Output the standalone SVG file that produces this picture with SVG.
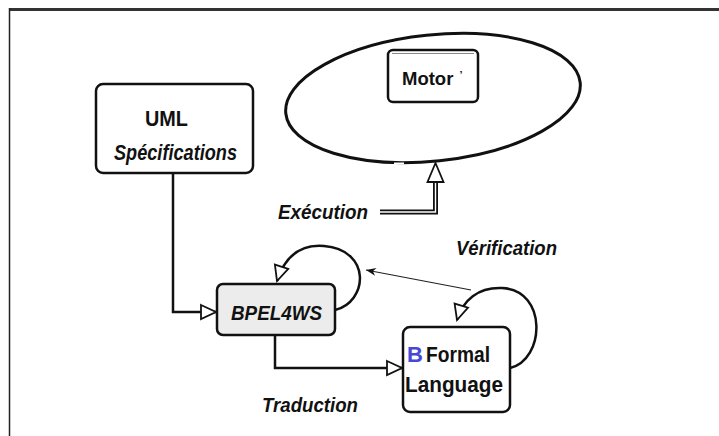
<svg xmlns="http://www.w3.org/2000/svg" width="719" height="436" viewBox="0 0 719 436">
  <style>
    .lbl { font-family: "Liberation Sans", Arial, sans-serif; font-weight: bold; fill: #111; }
    .it { font-style: italic; }
    .box { fill: #fff; stroke: #111; stroke-width: 2.5; }
    .wire { fill: none; stroke: #111; stroke-width: 2.5; }
  </style>
  <defs>
    <marker id="hollow" markerUnits="userSpaceOnUse" markerWidth="20" markerHeight="20" viewBox="0 0 20 20" refX="17" refY="10" orient="auto">
      <path d="M2,3 L17,10 L2,17 Z" fill="#fff" stroke="#111" stroke-width="1.8"/>
    </marker>
    <marker id="thin" markerUnits="userSpaceOnUse" markerWidth="12" markerHeight="12" viewBox="0 0 12 12" refX="11" refY="6" orient="auto">
      <path d="M1,2 L11,6 L1,10 L4,6 Z" fill="#111"/>
    </marker>
  </defs>

  <rect width="719" height="436" fill="#fff"/>

  <!-- frame -->
  <line x1="9" y1="9.5" x2="719" y2="9.5" stroke="#333" stroke-width="3"/>
  <line x1="9.5" y1="8" x2="9.5" y2="436" stroke="#222" stroke-width="1.5"/>

  <!-- engine ellipse -->
  <g id="engine">
    <ellipse cx="433" cy="98" rx="148" ry="63" transform="rotate(-6 433 98)" fill="#fff" stroke="#111" stroke-width="3"/>
    <rect x="462" y="40.5" width="10" height="2" fill="#fff"/>
    <rect x="394" y="162.5" width="10" height="2" fill="#fff"/>
  </g>

  <g id="motor">
    <rect x="388" y="50" width="90" height="52" rx="5" class="box"/>
    <line x1="392" y1="53.5" x2="474" y2="53.5" stroke="#888" stroke-width="1"/>
    <text x="402" y="85" class="lbl" font-size="18.5">Motor<tspan font-size="11" dx="6" dy="-6">ʼ</tspan></text>
  </g>

  <g id="uml">
    <rect x="96" y="84" width="157" height="89" rx="7" class="box"/>
    <line x1="99.5" y1="95" x2="99.5" y2="162" stroke="#fff" stroke-width="0.8"/>
    <line x1="249.5" y1="95" x2="249.5" y2="162" stroke="#fff" stroke-width="0.8"/>
    <text x="145" y="126" class="lbl" font-size="22" textLength="43" lengthAdjust="spacingAndGlyphs">UML</text>
    <text x="114" y="160" class="lbl it" font-size="22" textLength="123" lengthAdjust="spacingAndGlyphs">Spécifications</text>
  </g>

  <g id="bpel">
    <rect x="217" y="284" width="118" height="51" rx="6" fill="#ececec" stroke="#111" stroke-width="2.5"/>
    <text x="231" y="320" class="lbl it" font-size="21" textLength="91" lengthAdjust="spacingAndGlyphs">BPEL4WS</text>
  </g>

  <g id="formal">
    <rect x="403" y="327" width="107" height="85" rx="7" class="box"/>
    <text x="407" y="362" class="lbl" font-size="22" style="fill:#4848d8">B</text>
    <text x="426" y="362" class="lbl" font-size="22" textLength="64" lengthAdjust="spacingAndGlyphs">Formal</text>
    <text x="405" y="392" class="lbl" font-size="22" textLength="98" lengthAdjust="spacingAndGlyphs">Language</text>
  </g>

  <!-- connectors -->
  <g id="connectors">
    <path d="M173,173 V312 H216" class="wire" marker-end="url(#hollow)"/>
    <path d="M275,335 V368 H402" class="wire" marker-end="url(#hollow)"/>
    <path d="M335,310 C368,302 372,250 324,246 C300,244 285,256 277,281" class="wire" stroke-width="3" marker-end="url(#hollow)"/>
    <path d="M510,368 C545,360 548,290 502,288 C478,287 463,300 457,320" class="wire" stroke-width="3" marker-end="url(#hollow)"/>
    <path d="M471,290 L366,270" fill="none" stroke="#222" stroke-width="1.2" marker-end="url(#thin)"/>
    <!-- double-line execution link -->
    <path d="M380,212 H435.5 V180" fill="none" stroke="#111" stroke-width="5"/>
    <path d="M380,212 H435.5 V180" fill="none" stroke="#fff" stroke-width="1.4"/>
    <path d="M435.5,182 L427.5,182 L435.5,163 L443.5,182 Z" fill="#fff" stroke="#111" stroke-width="1.8"/>
  </g>

  <text x="278" y="219" class="lbl it" font-size="21" textLength="90" lengthAdjust="spacingAndGlyphs">Exécution</text>
  <text x="456" y="255" class="lbl it" font-size="21" textLength="101" lengthAdjust="spacingAndGlyphs">Vérification</text>
  <text x="262" y="412" class="lbl it" font-size="21" textLength="96" lengthAdjust="spacingAndGlyphs">Traduction</text>
</svg>
